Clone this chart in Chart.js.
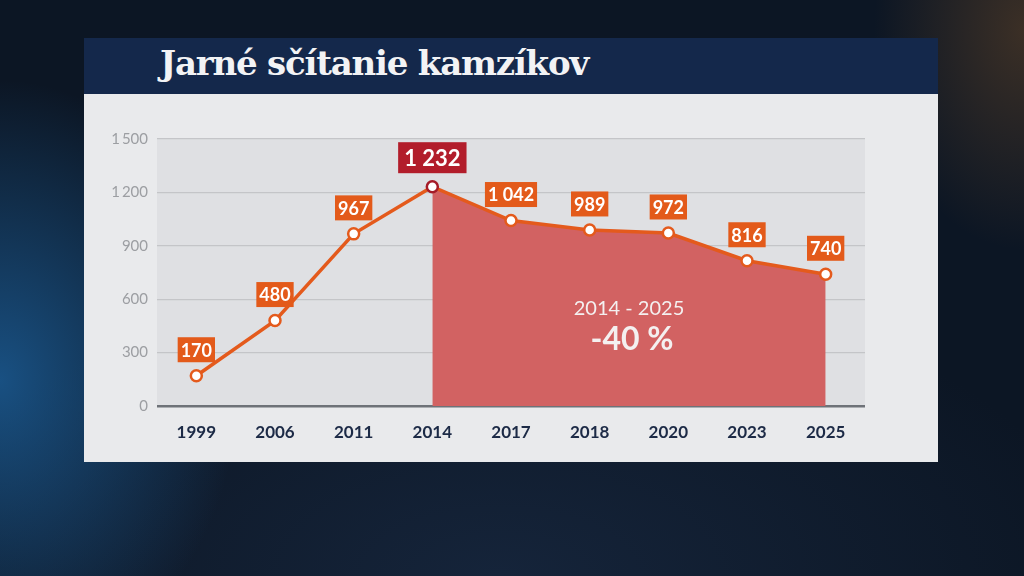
<!DOCTYPE html>
<html>
<head>
<meta charset="utf-8">
<script src="https://cdn.jsdelivr.net/npm/chart.js@4/dist/chart.umd.min.js"></script>
<style>
  html, body { margin:0; padding:0; }
  body {
    width:1024px; height:576px; overflow:hidden; position:relative;
    background:
      radial-gradient(ellipse 240px 300px at 0px 380px, rgba(30,105,170,0.7), rgba(30,105,170,0) 100%),
      radial-gradient(ellipse 150px 220px at 1024px 30px, rgba(130,85,40,0.4), rgba(130,85,40,0) 100%),
      radial-gradient(ellipse 600px 300px at 500px 576px, rgba(30,50,80,0.5), rgba(30,50,80,0) 100%),
      #0c1624;
  }
  #titlebar {
    position:absolute; left:84px; top:38px; width:854px; height:56px;
    background:#14284b;
  }
  #title {
    position:absolute; left:76px; top:5px;
    font-family:"DejaVu Serif", serif; font-weight:bold; font-size:34px;
    letter-spacing:-1.2px; color:#f2f3f5; white-space:nowrap;
  }
  #panel {
    position:absolute; left:84px; top:94px; width:854px; height:368px;
    background:#e9eaec;
  }
  #wrap { position:absolute; left:0; top:0; width:854px; height:368px; }
</style>
</head>
<body>
<div id="titlebar"><div id="title">Jarné sčítanie kamzíkov</div></div>
<div id="panel"><div id="wrap"><canvas id="c"></canvas></div></div>
<script>
const categories = ['1999','2006','2011','2014','2017','2018','2020','2023','2025'];
const counts = [170, 480, 967, 1232, 1042, 989, 972, 816, 740];
const countLabels = ['170','480','967','1 232','1 042','989','972','816','740'];
const declineSeries = [null, null, null, 1232, 1042, 989, 972, 816, 740];
const yTickValues = [0, 300, 600, 900, 1200, 1500];
const yTickLabels = ['0','300','600','900','1\u2009200','1\u2009500'];
const peakIndex = 3;
const annotationRange = '2014 - 2025';
const annotationChange = '-40 %';

const plotBg = {
  id:'plotBg',
  beforeDraw(chart){
    const {ctx, chartArea:a} = chart;
    ctx.save();
    ctx.fillStyle = '#dfe0e3';
    ctx.fillRect(a.left, a.top, a.right-a.left, a.bottom-a.top);
    ctx.restore();
  }
};

const labelsPlugin = {
  id:'labelsPlugin',
  afterDatasetsDraw(chart){
    const {ctx, scales} = chart;
    const meta = chart.getDatasetMeta(0);
    const xs = scales.x, ys = scales.y;
    const midX = (xs.getPixelForValue(3) + xs.getPixelForValue(8)) / 2;
    ctx.save();
    ctx.fillStyle = '#f4f0f0';
    ctx.textAlign = 'center';
    ctx.textBaseline = 'middle';
    ctx.font = '20px Lato, "Open Sans", sans-serif';
    ctx.fillText(annotationRange, midX, ys.getPixelForValue(545));
    ctx.font = 'bold 32px Lato, "Open Sans", sans-serif';
    ctx.fillText(annotationChange, midX + 3, ys.getPixelForValue(370));
    ctx.restore();

    meta.data.forEach((pt, i) => {
      const peak = i === peakIndex;
      const text = countLabels[i];
      ctx.save();
      ctx.font = peak ? 'bold 22px Lato, sans-serif' : 'bold 18px Lato, sans-serif';
      const w = ctx.measureText(text).width + (peak ? 12 : 6);
      const h = peak ? 31 : 25;
      const cy = pt.y - (peak ? 29 : 26);
      ctx.fillStyle = peak ? '#b21d2b' : '#e35a1a';
      ctx.fillRect(pt.x - w/2, cy - h/2, w, h);
      ctx.fillStyle = '#ffffff';
      ctx.textAlign = 'center';
      ctx.textBaseline = 'middle';
      ctx.fillText(text, pt.x, cy + 1);
      ctx.restore();
    });
  }
};

new Chart(document.getElementById('c'), {
  type:'line',
  data:{
    labels: categories,
    datasets:[
      {
        data: counts,
        borderColor:'#e45a1c',
        borderWidth:3.5,
        pointRadius:5.5,
        pointBorderWidth:2.5,
        pointBackgroundColor:'#ffffff',
        pointBorderColor: counts.map((v,i)=> i===peakIndex ? '#a51b27' : '#e45a1c'),
        tension:0,
        fill:false
      },
      {
        data: declineSeries,
        borderWidth:0,
        borderColor:'rgba(0,0,0,0)',
        pointRadius:0,
        backgroundColor:'#d26262',
        fill:'origin',
        tension:0
      }
    ]
  },
  options:{
    responsive:true,
    maintainAspectRatio:false,
    animation:false,
    layout:{ padding:{ left:0, right:73, top:45, bottom:0 } },
    plugins:{ legend:{display:false}, tooltip:{enabled:false} },
    scales:{
      x:{
        offset:true,
        grid:{ display:false, drawTicks:false },
        border:{ display:false },
        ticks:{ color:'#1c2a46', font:{ family:'Lato', size:17, weight:'bold' }, padding:16 },
        afterFit(s){ s.height = 56; }
      },
      y:{
        min:0, max:1500,
        afterBuildTicks(s){ s.ticks = yTickValues.map(v=>({value:v})); },
        grid:{
          color: c => c.tick && c.tick.value === 0 ? '#6e7278' : '#c4c5c8',
          lineWidth: c => c.tick && c.tick.value === 0 ? 2.5 : 1.2,
          drawTicks:false
        },
        border:{ display:false },
        ticks:{
          color:'#9c9ea2', font:{ family:'Lato', size:15 }, padding:9,
          callback:(v)=>{ const i = yTickValues.indexOf(v); return i>=0 ? yTickLabels[i] : ''; }
        },
        afterFit(s){ s.width = 73; }
      }
    }
  },
  plugins:[plotBg, labelsPlugin]
});
</script>
</body>
</html>
